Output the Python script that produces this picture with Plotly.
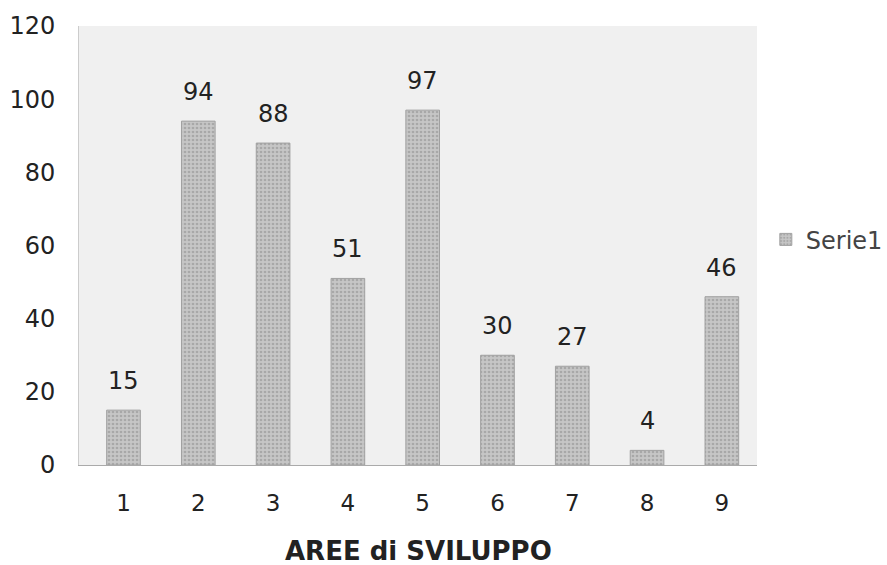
import plotly.graph_objects as go

categories = ["1", "2", "3", "4", "5", "6", "7", "8", "9"]
values = [15, 94, 88, 51, 97, 30, 27, 4, 46]
series_name = "Serie1"
x_title = "AREE di SVILUPPO"

fig = go.Figure()
fig.add_trace(go.Bar(
    x=categories, y=values, name=series_name,
    marker=dict(color="#c6c6c6", line=dict(color="#a0a0a0", width=1),
                pattern=dict(shape=".", fgcolor="#8a8a8a", size=4, solidity=0.35)),
    width=0.45,
))

for i, v in enumerate(values):
    fig.add_annotation(x=i, y=v, text=str(v), showarrow=False, yanchor="bottom",
                       yshift=13, font=dict(family="DejaVu Sans", size=24, color="#222"))

fig.add_annotation(x=0.5, xref="paper", y=-0.196, yref="paper", yanchor="middle",
                   text="<b>" + x_title + "</b>", showarrow=False,
                   font=dict(family="DejaVu Sans", size=26, color="#222"))

fig.update_layout(
    width=887, height=565,
    margin=dict(l=79, r=130, t=26, b=100, autoexpand=False),
    paper_bgcolor="white",
    plot_bgcolor="#f0f0f0",
    font=dict(family="DejaVu Sans", color="#222"),
    showlegend=True,
    legend=dict(x=1.013, y=0.513, xanchor="left", yanchor="middle",
                font=dict(size=24, color="#444"), bgcolor="rgba(0,0,0,0)",
                itemwidth=30),
)
fig.update_xaxes(
    type="category", range=[-0.595, 8.47],
    showline=True, linecolor="#aaaaaa", ticks="", tickfont=dict(size=23),
    ticklabelstandoff=17,
)
fig.update_yaxes(
    range=[0, 120], dtick=20, showgrid=False, zeroline=False,
    showline=True, linecolor="#cccccc", tickfont=dict(size=24),
    ticklabelstandoff=18,
)
fig.write_html("out.html")
